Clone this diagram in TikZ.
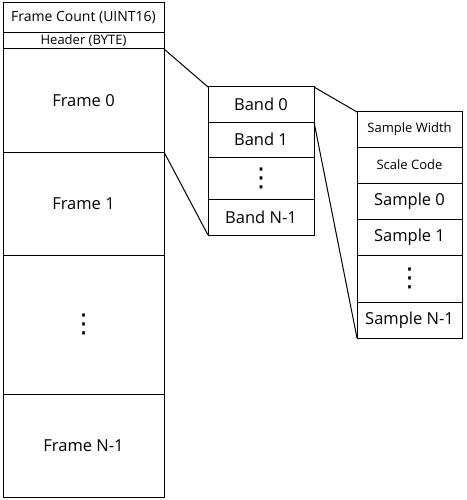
\documentclass[tikz,border=0pt]{standalone}
\usepackage{fontspec}
\setmainfont{Open Sans}
\newfontfamily\symfont{DejaVu Sans}
\tikzset{
  cell/.style={draw, line width=1pt, outer sep=0pt, inner sep=0pt, anchor=north west,
    font=\fontsize{16.5}{18}\selectfont},
  small/.style={font=\fontsize{14}{16}\selectfont},
  tiny/.style={font=\fontsize{13}{14}\selectfont},
  dots/.style={font=\symfont\fontsize{26}{26}\selectfont},
  link/.style={line width=1pt}
}
\begin{document}
\begin{tikzpicture}[x=1pt,y=-1pt]
        \useasboundingbox (0,0) rectangle (466,500);
        % file layout
        \node[cell, small, minimum width=161pt, minimum height=30pt] (fcount) at (3,3) {Frame Count (UINT16)};
        \node[cell, tiny, minimum width=161pt, minimum height=16pt] (header) at (3,33) {Header (BYTE)};
        \node[cell, minimum width=161pt, minimum height=103pt] (frame0) at (3,49) {Frame 0};
        \node[cell, minimum width=161pt, minimum height=103pt] (frame1) at (3,152) {Frame 1};
        \node[cell, dots, minimum width=161pt, minimum height=139pt] (framed) at (3,255) {⋮};
        \node[cell, minimum width=161pt, minimum height=103pt] (framen) at (3,394) {Frame N-1};
        % frame layout
        \node[cell, minimum width=106pt, minimum height=35pt] (band0) at (208,87) {Band 0};
        \node[cell, minimum width=106pt, minimum height=35pt] (band1) at (208,122) {Band 1};
        \node[cell, dots, minimum width=106pt, minimum height=42pt] (bandd) at (208,157) {⋮};
        \node[cell, minimum width=106pt, minimum height=36pt] (bandn) at (208,199) {Band N-1};
        % band layout
        \node[cell, tiny, minimum width=105pt, minimum height=35pt] (swidth) at (357,112) {Sample Width};
        \node[cell, tiny, minimum width=105pt, minimum height=36pt] (scode) at (357,147) {Scale Code};
        \node[cell, minimum width=105pt, minimum height=36pt] (sample0) at (357,183) {Sample 0};
        \node[cell, minimum width=105pt, minimum height=36pt] (sample1) at (357,219) {Sample 1};
        \node[cell, dots, minimum width=105pt, minimum height=47pt] (sampled) at (357,255) {⋮};
        \node[cell, minimum width=105pt, minimum height=36pt] (samplen) at (357,302) {Sample N-1};
        % zoom lines
        \draw[link] (frame0.north east) -- (band0.north west);
        \draw[link] (frame1.north east) -- (bandn.south west);
        \draw[link] (band0.north east) -- (swidth.north west);
        \draw[link] (band1.north east) -- (samplen.south west);
      \end{tikzpicture}
\end{document}
